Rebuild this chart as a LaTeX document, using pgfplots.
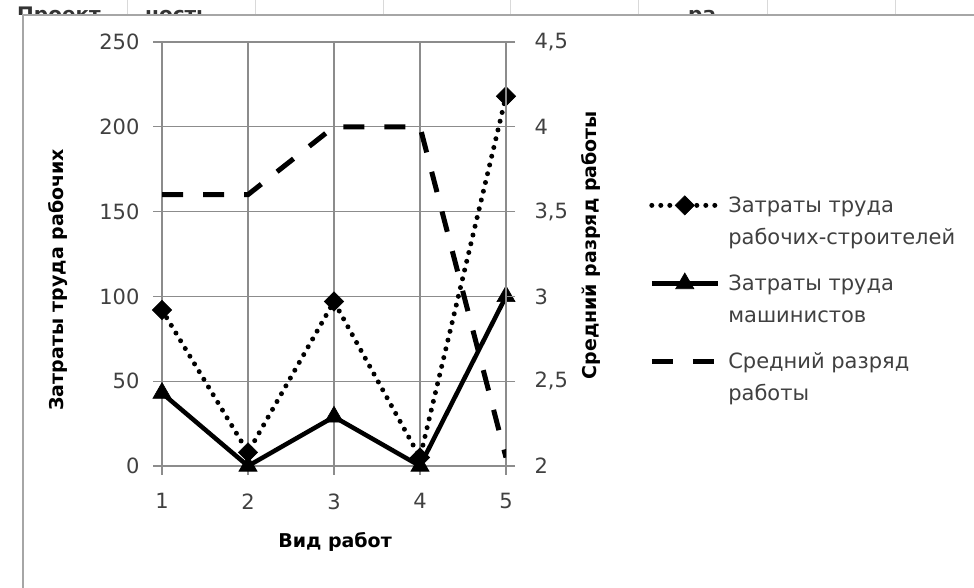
\documentclass[border=0pt]{standalone}
\usepackage{fontspec}
\setmainfont{DejaVu Sans}
\usepackage{pgfplots}
\pgfplotsset{compat=1.18}
\definecolor{gridc}{HTML}{8C8C8C}
\definecolor{tickc}{HTML}{404040}
\tikzset{
  dotser/.style={black, line width=5pt, line cap=round, dash pattern=on 0pt off 9pt, mark=square*, mark size=6.8pt, mark options={solid, rotate=45, line width=0.6pt}},
  solser/.style={black, line width=4.5pt, mark=triangle*, mark size=10.5pt, mark options={solid, line width=0.6pt}},
  dashser/.style={black, line width=5pt, dash pattern=on 21pt off 20pt}
}
\begin{document}
\begin{tikzpicture}
\useasboundingbox (0,0) rectangle (974pt,588pt);
\begin{scope}
\clip (0,573pt) rectangle (974pt,588pt);
\foreach \x in {127,255,383,510,638,767,895} \draw[gray!30, line width=1pt] (\x pt,573pt) -- (\x pt,588pt);
\node[anchor=base west, font=\bfseries\fontsize{20}{24}\selectfont, text=black!80, inner sep=0] at (17pt,566pt) {Проект};
\node[anchor=base west, font=\bfseries\fontsize{20}{24}\selectfont, text=black!80, inner sep=0] at (145pt,566pt) {ность};
\node[anchor=base west, font=\bfseries\fontsize{20}{24}\selectfont, text=black!80, inner sep=0] at (688pt,566pt) {ра};
\end{scope}
\draw[gray!70, line width=1.5pt] (23pt,0) -- (23pt,573pt) -- (974pt,573pt);

\begin{axis}[
  scale only axis, width=344pt, height=424pt, at={(162pt,122pt)}, anchor=south west,
  xmin=1, xmax=5, ymin=0, ymax=250,
  xtick={1,2,3,4,5}, ytick={0,50,100,150,200,250},
  xtick pos=left, ytick pos=left, tick align=outside, major tick length=9pt,
  grid=major, major grid style={gridc, line width=1.2pt},
  axis line style={gridc, line width=1.2pt}, tick style={gridc, line width=1.2pt},
  ticklabel style={font=\fontsize{21}{24}\selectfont, text=tickc},
  yticklabel style={xshift=-10pt},
  xticklabel style={yshift=-15pt},
  /pgf/number format/assume math mode=true,
  xlabel={Вид работ}, ylabel={Затраты труда рабочих},
  label style={font=\bfseries\fontsize{19}{23}\selectfont, text=black},
  xlabel style={at={(axis description cs:0.503,-0.179)}, anchor=center},
  ylabel style={at={(axis description cs:-0.302,0.439)}, anchor=center},
  legend cell align=left,
  legend style={draw=none, fill=none, at={(1.416,0.64)}, anchor=north west,
    font=\fontsize{21}{32}\selectfont, text=tickc,
    cells={align=left}, row sep=25pt, column sep=6pt, inner sep=0pt},
  legend image code/.code={\path[draw=none, fill=none] (0pt,-26pt) rectangle (66pt,26pt);
    \draw[yshift=16pt, mark repeat=2, mark phase=2, #1] plot coordinates {(0pt,0pt) (33pt,0pt) (66pt,0pt)};},
]
\addplot[dotser] coordinates {(1,92) (2,8) (3,97) (4,5) (5,218)};
\addlegendentry{Затраты труда\\рабочих-строителей}
\addplot[solser] coordinates {(1,43) (2,0) (3,29) (4,0) (5,100)};
\addlegendentry{Затраты труда\\машинистов}
\addlegendimage{dashser}
\addlegendentry{Средний разряд\\работы}
\end{axis}

\begin{axis}[
  scale only axis, width=344pt, height=424pt, at={(162pt,122pt)}, anchor=south west,
  xmin=1, xmax=5, ymin=2, ymax=4.5,
  hide x axis, axis y line*=right,
  ytick={2,2.5,3,3.5,4,4.5},
  tick align=outside, major tick length=9pt,
  axis line style={gridc, line width=1.2pt}, tick style={gridc, line width=1.2pt},
  ticklabel style={font=\fontsize{21}{24}\selectfont, text=tickc},
  /pgf/number format/assume math mode=true,
  yticklabel style={xshift=16pt, /pgf/number format/.cd, use comma, fixed, precision=1},
  ylabel={Средний разряд работы},
  label style={font=\bfseries\fontsize{19}{23}\selectfont, text=black},
  ylabel style={at={(axis description cs:1.247,0.521)}, anchor=center},
]
\addplot[dashser] coordinates {(1,3.6) (2,3.6) (3,4) (4,4) (5,2.05)};
\end{axis}
\end{tikzpicture}
\end{document}
